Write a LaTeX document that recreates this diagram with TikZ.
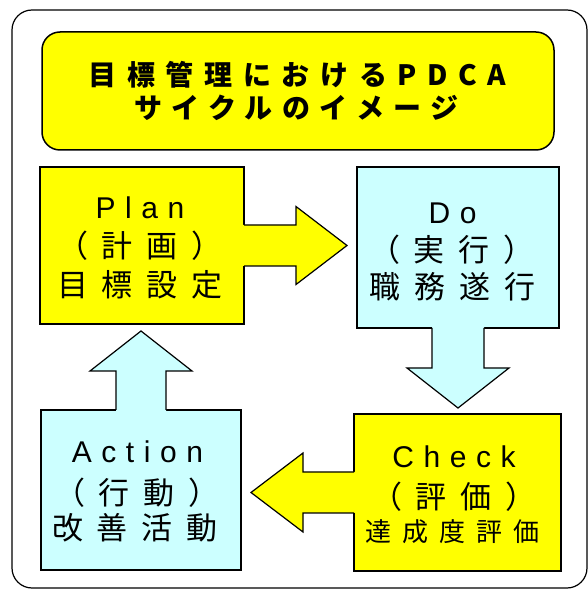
\documentclass[tikz,border=0pt]{standalone}
\usepackage{fontspec}
\newfontfamily\jp[LetterSpace=45]{Noto Sans CJK JP}
\newfontfamily\jpsm[LetterSpace=42]{Noto Sans CJK JP}
\newfontfamily\jpt[LetterSpace=38]{Noto Sans CJK JP}
\newfontfamily\jptb[LetterSpace=33]{Noto Sans CJK JP}
\newfontfamily\lat[LetterSpace=32]{Liberation Sans}
\usetikzlibrary{calc}
\definecolor{yel}{HTML}{FFFF00}
\definecolor{cya}{HTML}{CCFFFF}
\begin{document}
\begin{tikzpicture}[x=1pt,y=1pt,
  stepbox/.style={draw=black,line width=1.2pt,inner sep=0pt,outer sep=0pt,anchor=center},
  titlebox/.style={draw=black,line width=1.5pt,fill=yel,rounded corners=18pt,inner sep=0pt,outer sep=0pt},
  tline/.style={inner sep=0pt,anchor=center,font=\fontsize{28}{28}\selectfont\jpt\bfseries},
  tlineb/.style={inner sep=0pt,anchor=center,font=\fontsize{28}{28}\selectfont\jptb\bfseries},
  latline/.style={inner sep=0pt,anchor=center,font=\fontsize{30}{30}\selectfont\lat},
  jpline/.style={inner sep=0pt,anchor=center,font=\fontsize{31}{31}\selectfont\jp},
  jpsmall/.style={inner sep=0pt,anchor=center,font=\fontsize{26}{26}\selectfont\jpsm},
  arrline/.style={draw=black,line width=1.2pt}]
\useasboundingbox (0,0) rectangle (588,590);
\draw[line width=1.2pt,rounded corners=20pt] (12,580) rectangle (587,2);

\node[titlebox,minimum width=512pt,minimum height=118pt] (title) at (298,499) {};
\node[tline] (t1) at (297.5,515) {目標管理におけるPDCA};
\node[tlineb] (t2) at (296.5,482) {サイクルのイメージ};

\node[stepbox,fill=yel,minimum width=204pt,minimum height=157pt] (plan) at (142,344.5) {};
\node[stepbox,fill=cya,minimum width=202pt,minimum height=161pt] (do) at (458,342.5) {};
\node[stepbox,fill=yel,minimum width=207pt,minimum height=157pt] (check) at (457.5,97.5) {};
\node[stepbox,fill=cya,minimum width=200pt,minimum height=160pt] (action) at (141,100) {};

\node[latline] (plan1) at (140,382) {Plan};
\node[jpline] (plan2) at (140,344) {（計画）};
\node[jpline] (plan3) at (140,305) {目標設定};

\node[latline] (do1) at (452.5,377) {Do};
\node[jpline] (do2) at (452,340) {（実行）};
\node[jpline] (do3) at (452.5,303) {職務遂行};

\node[latline] (check1) at (454,133) {Check};
\node[jpline] (check2) at (454,93) {（評価）};
\node[jpsmall] (check3) at (452.5,58) {達成度評価};

\node[latline] (action1) at (137.5,138.5) {Action};
\node[jpline] (action2) at (137,97.5) {（行動）};
\node[jpline] (action3) at (135,62.5) {改善活動};

% Plan -> Do
\fill[yel] let \p1=(plan.east), \p2=(do.west) in
  (\x1-1.5pt,\y1+20.5pt) -- (\x1+52pt,\y1+20.5pt) -- (\x1+52pt,\y1+39pt) -- (\x2-10pt,\y1)
  -- (\x1+52pt,\y1-39pt) -- (\x1+52pt,\y1-20.5pt) -- (\x1-1.5pt,\y1-20.5pt) -- cycle;
\draw[arrline] let \p1=(plan.east), \p2=(do.west) in
  (\x1,\y1+20.5pt) -- (\x1+52pt,\y1+20.5pt) -- (\x1+52pt,\y1+39pt) -- (\x2-10pt,\y1)
  -- (\x1+52pt,\y1-39pt) -- (\x1+52pt,\y1-20.5pt) -- (\x1,\y1-20.5pt);

% Do -> Check
\fill[cya] let \p1=(do.south), \p2=(check.north) in
  (\x1-26pt,\y1+1.5pt) -- (\x1-26pt,\y1-40pt) -- (\x1-51pt,\y1-40pt) -- (\x1,\y2+6pt)
  -- (\x1+51pt,\y1-40pt) -- (\x1+26pt,\y1-40pt) -- (\x1+26pt,\y1+1.5pt) -- cycle;
\draw[arrline] let \p1=(do.south), \p2=(check.north) in
  (\x1-26pt,\y1) -- (\x1-26pt,\y1-40pt) -- (\x1-51pt,\y1-40pt) -- (\x1,\y2+6pt)
  -- (\x1+51pt,\y1-40pt) -- (\x1+26pt,\y1-40pt) -- (\x1+26pt,\y1);

% Check -> Action
\fill[yel] let \p1=(check.west), \p2=(action.east) in
  (\x1+1.5pt,\y1+20.5pt) -- (\x1-51pt,\y1+20.5pt) -- (\x1-51pt,\y1+39.5pt) -- (\x2+10pt,\y1)
  -- (\x1-51pt,\y1-39.5pt) -- (\x1-51pt,\y1-20.5pt) -- (\x1+1.5pt,\y1-20.5pt) -- cycle;
\draw[arrline] let \p1=(check.west), \p2=(action.east) in
  (\x1,\y1+20.5pt) -- (\x1-51pt,\y1+20.5pt) -- (\x1-51pt,\y1+39.5pt) -- (\x2+10pt,\y1)
  -- (\x1-51pt,\y1-39.5pt) -- (\x1-51pt,\y1-20.5pt) -- (\x1,\y1-20.5pt);

% Action -> Plan
\fill[cya] let \p1=(action.north), \p2=(plan.south) in
  (\x1-25pt,\y1-1.5pt) -- (\x1-25pt,\y1+39pt) -- (\x1-51pt,\y1+39pt) -- (\x1,\y2-7pt)
  -- (\x1+51pt,\y1+39pt) -- (\x1+25pt,\y1+39pt) -- (\x1+25pt,\y1-1.5pt) -- cycle;
\draw[arrline] let \p1=(action.north), \p2=(plan.south) in
  (\x1-25pt,\y1) -- (\x1-25pt,\y1+39pt) -- (\x1-51pt,\y1+39pt) -- (\x1,\y2-7pt)
  -- (\x1+51pt,\y1+39pt) -- (\x1+25pt,\y1+39pt) -- (\x1+25pt,\y1);
\end{tikzpicture}
\end{document}
